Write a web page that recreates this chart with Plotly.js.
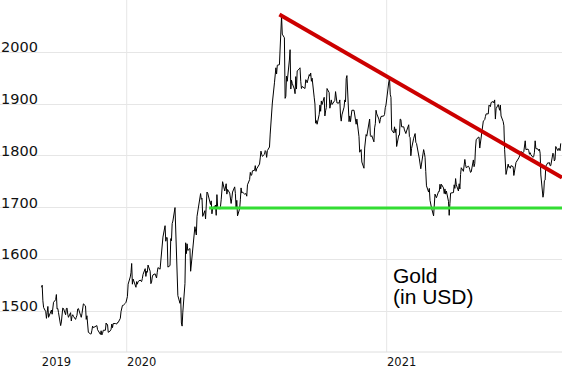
<!DOCTYPE html>
<html>
<head>
<meta charset="utf-8">
<script src="https://cdn.plot.ly/plotly-3.0.1.min.js"></script>
<style>html,body{margin:0;padding:0;background:#fff;}#chart{width:562px;height:368px;}</style>
</head>
<body>
<div id="chart"></div>
<script>
// Gold price (USD), daily closes
const days2019 = ['09-03','09-04','09-05','09-06','09-09','09-10','09-11','09-12','09-13','09-16','09-17','09-18','09-19','09-20','09-23','09-24','09-25','09-26','09-27','09-30',
'10-01','10-02','10-03','10-04','10-07','10-08','10-09','10-10','10-11','10-14','10-15','10-16','10-17','10-18','10-21','10-22','10-23','10-24','10-25','10-28','10-29','10-30','10-31',
'11-01','11-04','11-05','11-06','11-07','11-08','11-11','11-12','11-13','11-14','11-15','11-18','11-19','11-20','11-21','11-22','11-25','11-26','11-27','11-28','11-29',
'12-02','12-03','12-04','12-05','12-06','12-09','12-10','12-11','12-12','12-13','12-16','12-17','12-18','12-19','12-20','12-23','12-24','12-26','12-27','12-30','12-31'];
const prices2019 = [1546,1550,1520,1507,1499,1486,1497,1509,1488,1498,1502,1494,1506,1517,1522,1532,1504,1505,1497,1472,
1479,1499,1506,1505,1493,1505,1506,1494,1488,1497,1481,1490,1493,1490,1484,1488,1492,1504,1505,1492,1488,1495,1513,
1514,1510,1484,1491,1467,1459,1456,1456,1463,1471,1468,1471,1472,1472,1464,1462,1455,1462,1454,1457,1463,
1463,1477,1474,1474,1459,1462,1465,1475,1468,1476,1476,1476,1475,1478,1478,1486,1499,1511,1511,1515,1517];

const days2020 = ['01-02','01-03','01-06','01-07','01-08','01-09','01-10','01-13','01-14','01-15','01-16','01-17','01-20','01-21','01-22','01-23','01-24','01-27','01-28','01-29','01-30','01-31',
'02-03','02-04','02-05','02-06','02-07','02-10','02-11','02-12','02-13','02-14','02-17','02-18','02-19','02-20','02-21','02-24','02-25','02-26','02-27','02-28',
'03-02','03-03','03-04','03-05','03-06','03-09','03-10','03-11','03-12','03-13','03-16','03-17','03-18','03-19','03-20','03-23','03-24','03-25','03-26','03-27','03-30','03-31',
'04-01','04-02','04-03','04-06','04-07','04-08','04-09','04-13','04-14','04-15','04-16','04-17','04-20','04-21','04-22','04-23','04-24','04-27','04-28','04-29','04-30',
'05-01','05-04','05-05','05-06','05-07','05-08','05-11','05-12','05-13','05-14','05-15','05-18','05-19','05-20','05-21','05-22','05-25','05-26','05-27','05-28','05-29',
'06-01','06-02','06-03','06-04','06-05','06-08','06-09','06-10','06-11','06-12','06-15','06-16','06-17','06-18','06-19','06-22','06-23','06-24','06-25','06-26','06-29','06-30',
'07-01','07-02','07-06','07-07','07-08','07-09','07-10','07-13','07-14','07-15','07-16','07-17','07-20','07-21','07-22','07-23','07-24','07-27','07-28','07-29','07-30','07-31',
'08-03','08-04','08-05','08-06','08-07','08-10','08-11','08-12','08-13','08-14','08-17','08-18','08-19','08-20','08-21','08-24','08-25','08-26','08-27','08-28','08-31',
'09-01','09-02','09-03','09-04','09-08','09-09','09-10','09-11','09-14','09-15','09-16','09-17','09-18','09-21','09-22','09-23','09-24','09-25','09-28','09-29','09-30',
'10-01','10-02','10-05','10-06','10-07','10-08','10-09','10-12','10-13','10-14','10-15','10-16','10-19','10-20','10-21','10-22','10-23','10-26','10-27','10-28','10-29','10-30',
'11-02','11-03','11-04','11-05','11-06','11-09','11-10','11-11','11-12','11-13','11-16','11-17','11-18','11-19','11-20','11-23','11-24','11-25','11-26','11-27','11-30',
'12-01','12-02','12-03','12-04','12-07','12-08','12-09','12-10','12-11','12-14','12-15','12-16','12-17','12-18','12-21','12-22','12-23','12-24','12-28','12-29','12-30','12-31'];
const prices2020 = [1528,1552,1566,1574,1592,1552,1562,1548,1546,1557,1552,1557,1560,1558,1557,1563,1571,1582,1567,1577,1575,1589,
1577,1553,1556,1566,1570,1572,1566,1564,1575,1584,1581,1601,1611,1620,1643,1665,1635,1642,1642,1585,
1588,1640,1636,1669,1674,1700,1650,1635,1577,1530,1515,1526,1477,1471,1498,1553,1632,1611,1630,1617,1621,1577,
1591,1612,1620,1663,1647,1647,1683,1714,1727,1716,1718,1683,1694,1678,1714,1730,1728,1713,1706,1713,1688,
1700,1702,1705,1685,1725,1702,1697,1702,1715,1730,1750,1732,1745,1746,1726,1735,1728,1710,1708,1718,1730,
1740,1727,1699,1714,1684,1698,1715,1738,1728,1730,1726,1726,1727,1722,1744,1754,1768,1762,1763,1771,1772,1781,
1770,1775,1784,1796,1809,1803,1799,1803,1810,1808,1797,1810,1817,1842,1871,1888,1902,1941,1958,1970,1958,1975,
1976,2019,2048,2070,2035,2028,1911,1915,1954,1944,1985,2005,1929,1946,1940,1929,1920,1953,1929,1964,1968,
1970,1944,1930,1934,1930,1947,1946,1941,1957,1954,1960,1944,1950,1912,1900,1863,1868,1861,1880,1898,1886,
1906,1899,1913,1877,1887,1893,1930,1922,1892,1901,1908,1899,1904,1907,1924,1904,1902,1902,1908,1877,1867,1879,
1894,1908,1904,1949,1955,1866,1877,1866,1877,1888,1888,1880,1872,1861,1871,1837,1807,1811,1812,1788,1776,
1815,1831,1841,1838,1863,1871,1839,1837,1839,1827,1854,1862,1888,1881,1871,1863,1870,1876,1877,1880,1893,1898];

const days2021 = ['01-04','01-05','01-06','01-07','01-08','01-11','01-12','01-13','01-14','01-15','01-18','01-19','01-20','01-21','01-22','01-25','01-26','01-27','01-28','01-29',
'02-01','02-02','02-03','02-04','02-05','02-08','02-09','02-10','02-11','02-12','02-16','02-17','02-18','02-19','02-22','02-23','02-24','02-25','02-26',
'03-01','03-02','03-03','03-04','03-05','03-08','03-09','03-10','03-11','03-12','03-15','03-16','03-17','03-18','03-19','03-22','03-23','03-24','03-25','03-26','03-29','03-30','03-31',
'04-01','04-05','04-06','04-07','04-08','04-09','04-12','04-13','04-14','04-15','04-16','04-19','04-20','04-21','04-22','04-23','04-26','04-27','04-28','04-29','04-30',
'05-03','05-04','05-05','05-06','05-07','05-10','05-11','05-12','05-13','05-14','05-17','05-18','05-19','05-20','05-21','05-24','05-25','05-26','05-27','05-28','05-31',
'06-01','06-02','06-03','06-04','06-07','06-08','06-09','06-10','06-11','06-14','06-15','06-16','06-17','06-18','06-21','06-22','06-23','06-24','06-25','06-28','06-29','06-30',
'07-01','07-02','07-06','07-07','07-08','07-09','07-12','07-13','07-14','07-15','07-16','07-19','07-20','07-21','07-22','07-23','07-26','07-27','07-28','07-29','07-30',
'08-02','08-03','08-04','08-05','08-06','08-09','08-10','08-11','08-12','08-13','08-16','08-17','08-18','08-19','08-20','08-23','08-24','08-25','08-26','08-27','08-30','08-31',
'09-01','09-02','09-03'];
const prices2021 = [1943,1950,1919,1913,1850,1844,1856,1845,1852,1818,1840,1840,1871,1870,1856,1856,1850,1844,1843,1848,
1860,1837,1835,1800,1814,1834,1838,1843,1826,1824,1794,1775,1775,1784,1812,1806,1797,1770,1742,
1730,1737,1714,1702,1700,1684,1716,1726,1722,1719,1731,1731,1745,1736,1745,1738,1727,1736,1726,1732,1712,1685,1708,
1728,1729,1744,1737,1756,1744,1732,1746,1736,1764,1777,1770,1779,1793,1783,1777,1780,1778,1773,1768,1769,
1792,1779,1785,1815,1831,1836,1836,1815,1826,1843,1867,1868,1870,1876,1881,1881,1898,1897,1895,1903,1905,
1902,1908,1871,1891,1899,1893,1888,1898,1877,1866,1858,1812,1774,1764,1784,1778,1779,1776,1781,1779,1762,1770,
1776,1787,1796,1803,1803,1808,1806,1808,1826,1829,1812,1813,1810,1803,1806,1802,1797,1799,1807,1829,1814,
1813,1810,1813,1805,1763,1720,1728,1752,1753,1780,1787,1786,1787,1781,1781,1805,1803,1790,1793,1818,1810,1814,
1814,1810,1824];

// Resistance (red) and support (green) lines
const resistanceDates = ['2020-08-03', '2021-09-04 19:00'];
const resistanceValues = [2073, 1758];
const supportDates = ['2020-04-26', '2021-09-04 19:00'];
const supportValues = [1699, 1699];

// Axis labels
const yTicks = [1500, 1600, 1700, 1800, 1900, 2000];
const xTickDates = ['2019-09-03', '2020-01-01', '2021-01-01'];
const xTickText = ['2019', '2020', '2021'];
const yearGrid = ['2020-01-01', '2021-01-01'];
const titleLines = ['Gold', '(in USD)'];

const xs = [].concat(
  days2019.map(d => '2019-' + d),
  days2020.map(d => '2020-' + d),
  days2021.map(d => '2021-' + d)
);
const ys = [].concat(prices2019, prices2020, prices2021);

const xRange = ['2019-07-06 15:00', '2021-09-04 19:00'];

const traces = [
  {x: xs, y: ys, type: 'scatter', mode: 'lines', line: {color: '#000', width: 1}, hoverinfo: 'skip'},
  {x: supportDates, y: supportValues, type: 'scatter', mode: 'lines', line: {color: '#33dd33', width: 3}, hoverinfo: 'skip'},
  {x: resistanceDates, y: resistanceValues, type: 'scatter', mode: 'lines', line: {color: '#cc0000', width: 4}, hoverinfo: 'skip'}
];

const gridShapes = yearGrid.map(d => ({
  type: 'line', xref: 'x', yref: 'paper', x0: d, x1: d, y0: 0, y1: 1,
  line: {color: '#e6e6e6', width: 1}, layer: 'below'
}));
gridShapes.push({
  type: 'line', xref: 'x', yref: 'paper', x0: '2019-09-01', x1: xRange[1], y0: 0, y1: 0,
  line: {color: '#dedede', width: 1}, layer: 'below'
});

const layout = {
  width: 562, height: 368,
  margin: {l: 0, r: 0, t: 0, b: 16, pad: 0},
  paper_bgcolor: '#fff', plot_bgcolor: '#fff',
  showlegend: false,
  font: {family: 'DejaVu Sans', color: '#111'},
  xaxis: {
    type: 'date', range: xRange, showgrid: false, zeroline: false, showline: false,
    tickmode: 'array', tickvals: xTickDates, ticktext: xTickText, ticks: '',
    tickfont: {family: 'DejaVu Sans', size: 11.5, color: '#111'},
    ticklabelshift: 15, ticklabelstandoff: 1
  },
  yaxis: {
    range: [1421, 2101], showgrid: true, gridcolor: '#e6e6e6', gridwidth: 1,
    zeroline: false, showline: false, tickmode: 'array', tickvals: yTicks, ticks: '',
    ticklabelposition: 'inside', tickfont: {family: 'DejaVu Sans', size: 14.5, color: '#111'},
    ticklabelshift: -5, ticklabelstandoff: -2
  },
  shapes: gridShapes,
  annotations: [
    {text: titleLines[0], xref: 'paper', yref: 'paper', x: 391/562, y: 1 - 262/352, xanchor: 'left', yanchor: 'top',
     showarrow: false, font: {family: 'Liberation Sans', size: 21, color: '#000'}},
    {text: titleLines[1], xref: 'paper', yref: 'paper', x: 391/562, y: 1 - 283/352, xanchor: 'left', yanchor: 'top',
     showarrow: false, font: {family: 'Liberation Sans', size: 21, color: '#000'}}
  ]
};

Plotly.newPlot('chart', traces, layout, {staticPlot: true, displayModeBar: false});
</script>
</body>
</html>
